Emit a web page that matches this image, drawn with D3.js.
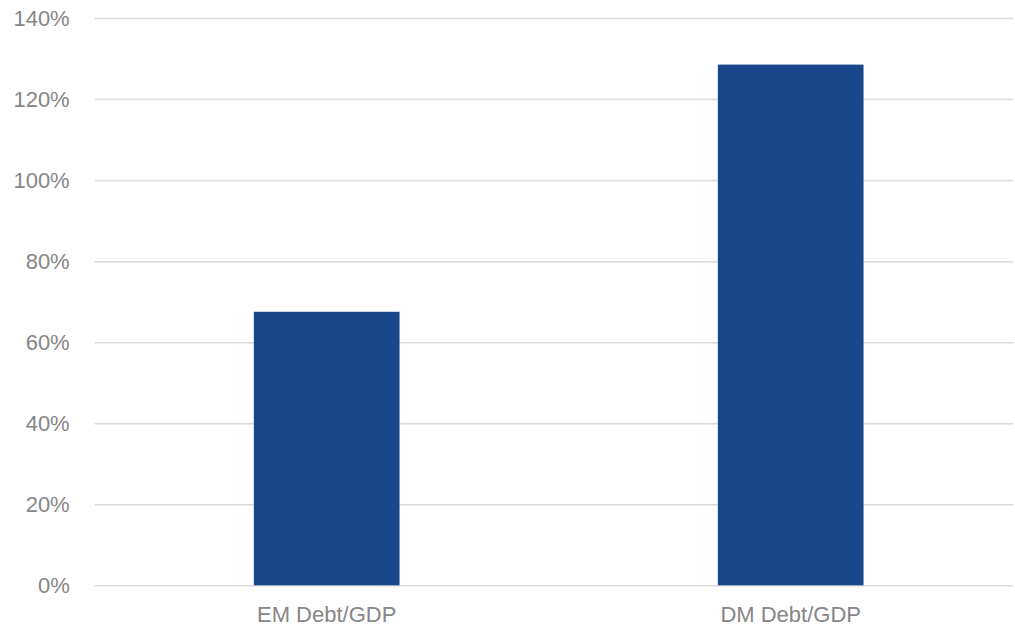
<!DOCTYPE html>
<html>
<head>
<meta charset="utf-8">
<script src="https://cdn.jsdelivr.net/npm/d3@7"></script>
<style>
  html, body { margin: 0; padding: 0; background: #fff; }
  svg { display: block; }
</style>
</head>
<body>
<svg id="chart" width="1015" height="626"></svg>
<script>
const categories = ["EM Debt/GDP", "DM Debt/GDP"];
const values = [67.5, 128.5];
const yTicks = [0, 20, 40, 60, 80, 100, 120, 140];

(function () {
const svg = d3.select("#chart");
const plotLeft = 94.7, gridRight = 1013, bandRight = 1022.7;
const plotTop = 18, plotBottom = 585.3;
const font = "'Liberation Sans', Arial, sans-serif";
const textColor = "#868686";

const x = d3.scaleBand().domain(categories).range([plotLeft, bandRight])
  .paddingInner(0.686).paddingOuter(0.343);
const y = d3.scaleLinear().domain([0, 140]).range([plotBottom, plotTop]);

const yAxis = d3.axisLeft(y).tickValues(yTicks).tickFormat(d => d + "%")
  .tickSize(-(gridRight - plotLeft)).tickPadding(25);
const gy = svg.append("g").attr("transform", `translate(${plotLeft},0)`).call(yAxis);
gy.select(".domain").remove();
gy.selectAll(".tick line").attr("stroke", "#d9d9d9").attr("stroke-width", 1.5);
gy.selectAll(".tick text").attr("fill", textColor)
  .style("font-family", font).style("font-size", "22px");

svg.append("g").selectAll("rect").data(categories).join("rect")
  .attr("x", d => x(d)).attr("width", x.bandwidth())
  .attr("y", (d, i) => y(values[i])).attr("height", (d, i) => plotBottom - y(values[i]))
  .attr("fill", "#18478c");

const xAxis = d3.axisBottom(x).tickSize(0).tickPadding(21);
const gx = svg.append("g").attr("transform", `translate(0,${plotBottom})`).call(xAxis);
gx.select(".domain").remove();
gx.selectAll(".tick text").attr("fill", textColor)
  .style("font-family", font).style("font-size", "22px");
})();
</script>
</body>
</html>
